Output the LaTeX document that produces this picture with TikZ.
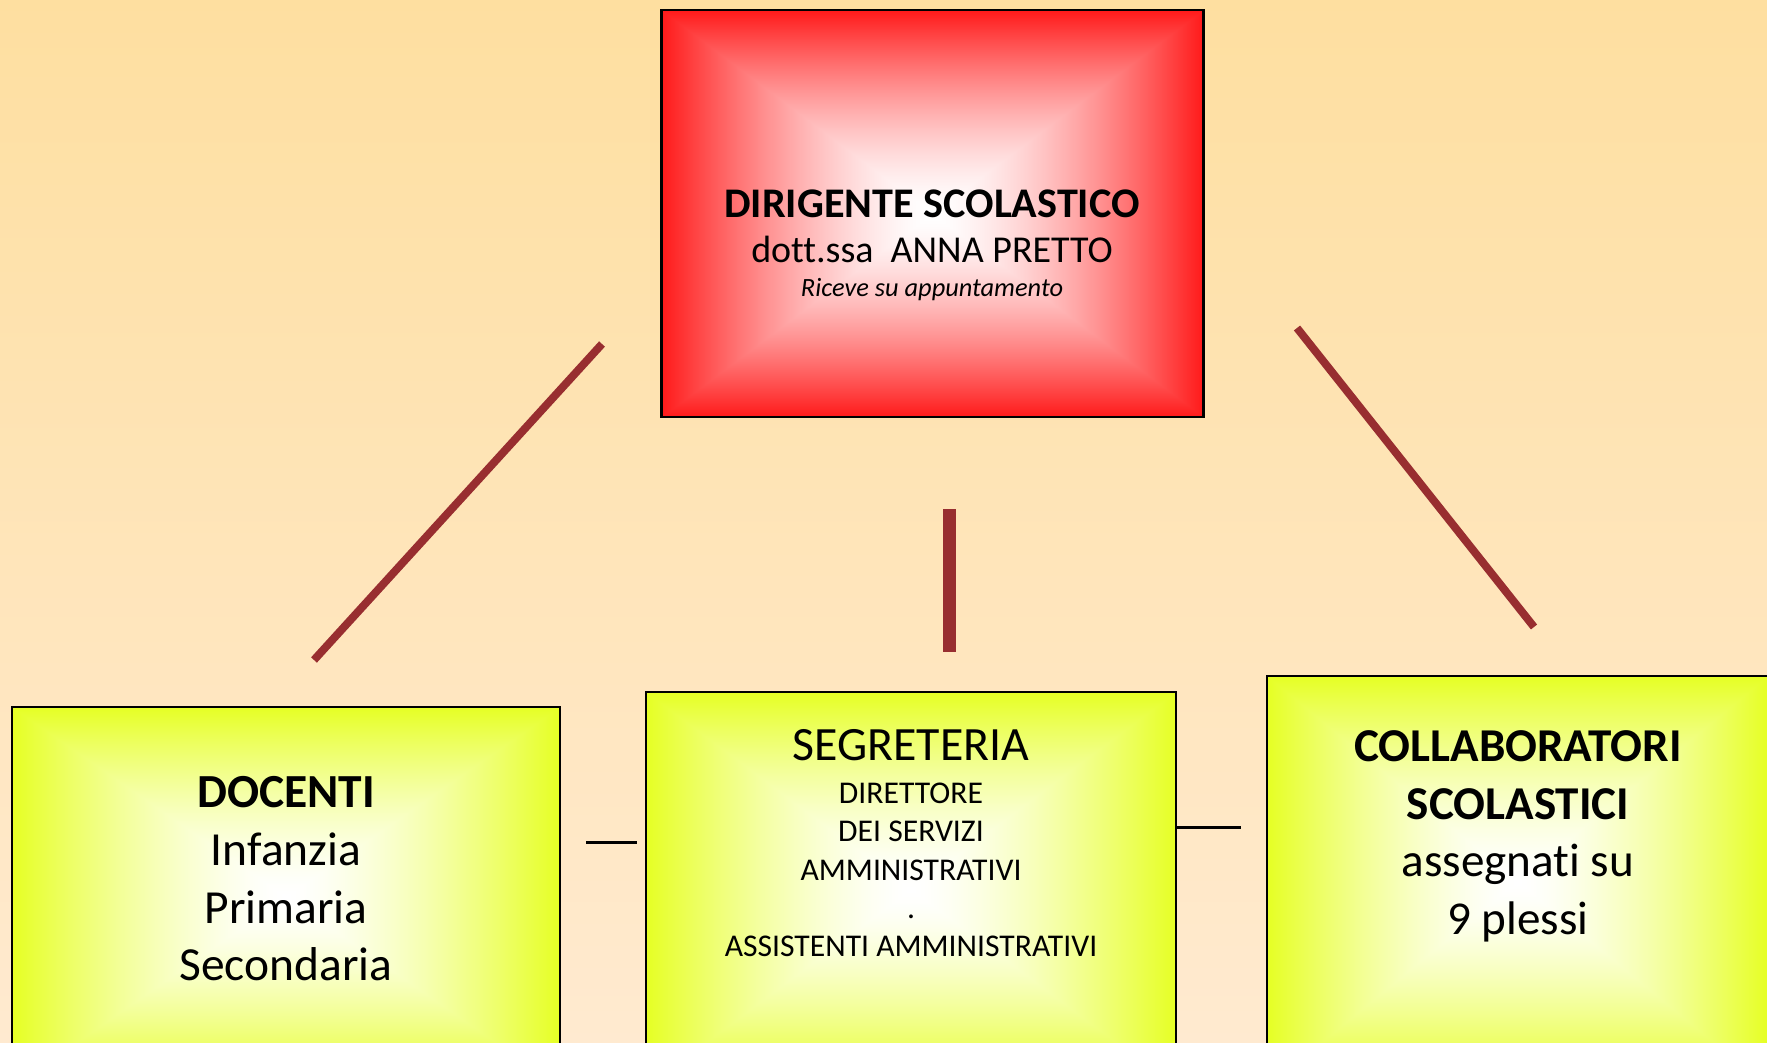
\documentclass[tikz,border=0pt]{standalone}
\usepackage{fontspec}
\setmainfont{Carlito}[Ligatures=CommonOff]
\usetikzlibrary{positioning}

\definecolor{sfondoalto}{RGB}{254,223,160}
\definecolor{sfondobasso}{RGB}{255,234,208}
\definecolor{linea}{RGB}{152,46,48}

% bianco al centro, colore pieno ai bordi
\pgfdeclarefunctionalshading{rossocentro}{\pgfpoint{-50bp}{-50bp}}{\pgfpoint{50bp}{50bp}}{}{
  abs exch abs 2 copy sub abs add add 2 div 25 div
  dup 1 sub abs neg 1 add add 2 div dup sqrt mul
  0.9 mul 1 exch sub 1 exch dup
}
\pgfdeclarefunctionalshading{giallocentro}{\pgfpoint{-50bp}{-50bp}}{\pgfpoint{50bp}{50bp}}{}{
  abs exch abs 2 copy sub abs add add 2 div 25 div
  dup 1 sub abs neg 1 add add 2 div dup sqrt mul
  dup 0.1 mul 1 exch sub exch 1 exch 0.86 mul 1 exch sub
}

\begin{document}
\begin{tikzpicture}[x=0.01cm, y=-0.01cm,
    box/.style={draw=black, line width=0.7pt, rectangle, inner sep=0pt},
    capo/.style={box, shading=rossocentro},
    area/.style={box, shading=giallocentro},
    link/.style={linea, line width=2.25pt},
    trattino/.style={black, line width=0.85pt},
    testo/.style={align=center, inner sep=0pt, anchor=north}]
    \useasboundingbox (0,0) rectangle (1767,1043);
    \shade[top color=sfondoalto, bottom color=sfondobasso] (0,0) rectangle (1767,1043);
    \clip (0,0) rectangle (1767,1043);

    \node[capo, minimum width=5.42cm, minimum height=4.07cm] (dir) at (932.5,213.5) {};
    \node[testo, font=\fontsize{12}{12.8}\selectfont] (dirtxt) at (932,189) {\textbf{DIRIGENTE SCOLASTICO}\\{\fontsize{10.8}{12}\selectfont dott.ssa\ \ ANNA PRETTO}\\[-3.1pt]{\fontsize{7.5}{9}\selectfont\itshape Riceve su appuntamento}};

    \node[area, minimum width=5.48cm, minimum height=3.8cm] (doc) at (286,897) {};
    \node[testo, font=\fontsize{13.5}{16.4}\selectfont] (doctxt) at (286,776) {\textbf{DOCENTI}\\Infanzia\\Primaria\\Secondaria};

    \node[area, minimum width=5.3cm, minimum height=3.95cm] (seg) at (911,889.5) {};
    \node[testo, font=\fontsize{9}{10.9}\selectfont] (segtxt) at (911,729) {{\fontsize{13.6}{14}\selectfont SEGRETERIA}\\[1.3pt]DIRETTORE\\DEI SERVIZI\\AMMINISTRATIVI\\.\\ASSISTENTI AMMINISTRATIVI};

    \node[area, minimum width=5.01cm, minimum height=4.11cm] (col) at (1517.5,881.5) {};
    \node[testo, font=\fontsize{13.4}{16.4}\selectfont] (coltxt) at (1518,730) {\textbf{COLLABORATORI}\\\textbf{SCOLASTICI}\\assegnati su\\9 plessi};

    \coordinate (sx1) at (602,344);   \coordinate (sx2) at (314,660);
    \coordinate (cn1) at (949.5,509); \coordinate (cn2) at (949.5,652);
    \coordinate (dx1) at (1297,328);  \coordinate (dx2) at (1534,627);
    \coordinate (t1) at (586,842);    \coordinate (t2) at (637,842);
    \coordinate (t3) at (1175,827);   \coordinate (t4) at (1241,827);

    \draw[link] (sx1) -- (sx2);
    \draw[link, line width=3.7pt] (cn1) -- (cn2);
    \draw[link] (dx1) -- (dx2);
    \draw[trattino] (t1) -- (t2);
    \draw[trattino] (t3) -- (t4);
\end{tikzpicture}
\end{document}
